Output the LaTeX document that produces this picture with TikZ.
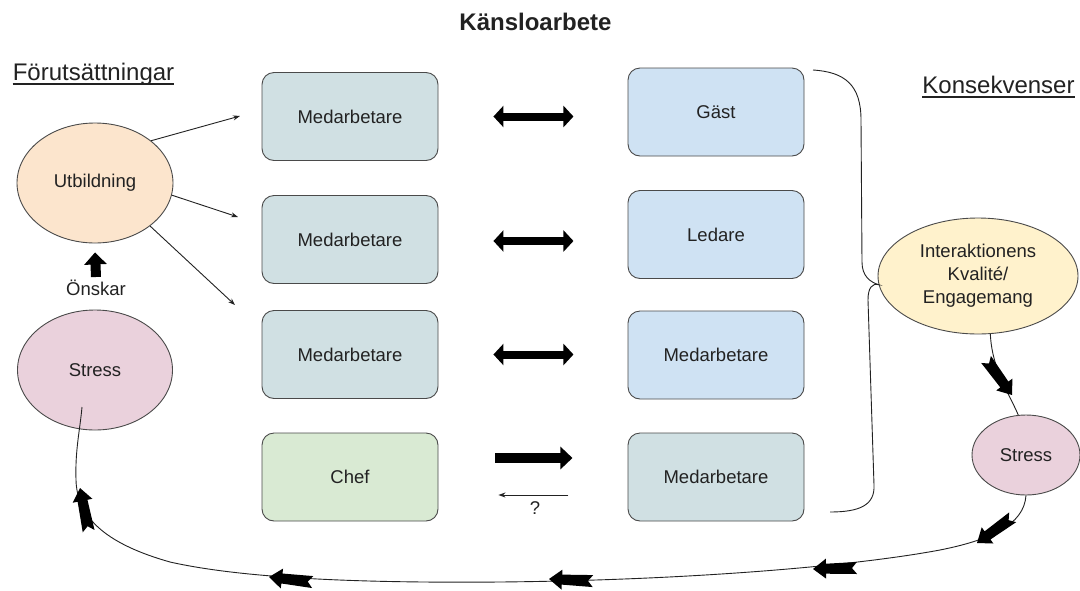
\documentclass[tikz,border=0pt]{standalone}
\usepackage{fontspec}
\setmainfont{Liberation Sans}
\usetikzlibrary{arrows.meta,shapes.geometric}
\definecolor{peach}{HTML}{FCE5CD}
\definecolor{pinkc}{HTML}{EAD1DC}
\definecolor{yell}{HTML}{FFF2CC}
\definecolor{greyblue}{HTML}{D0E0E3}
\definecolor{lblue}{HTML}{CFE2F3}
\definecolor{lgreen}{HTML}{D9EAD3}
\definecolor{edgec}{HTML}{4A4A4A}
\definecolor{ink}{HTML}{222222}
\tikzset{
 lbl/.style={font=\fontsize{18.5}{23}\selectfont, text=ink},
 head/.style={font=\fontsize{24}{28}\selectfont, text=ink, inner sep=0pt},
 box/.style={lbl, draw=edgec, line width=0.9pt, rounded corners=12pt, minimum width=176pt, minimum height=88pt, inner sep=0pt},
 oval/.style={lbl, ellipse, draw=edgec, line width=0.9pt, inner sep=0pt, align=center},
 thinline/.style={draw=ink, line width=0.9pt},
 thinarr/.style={thinline, -{Stealth[length=7pt,width=5pt]}},
 fatdouble/.style={draw=black, line width=8pt, {Triangle[length=10pt,width=21pt]}-{Triangle[length=10pt,width=21pt]}},
 fatone/.style={draw=black, line width=10pt, -{Triangle[length=12pt,width=22pt]}},
 pics/blockarr/.style={code={\fill[black] (0,0) -- (-13,10) -- (-13,5) -- (-44,6) -- (-39,0) -- (-44,-6) -- (-13,-5) -- (-13,-10) -- cycle;}},
}
\begin{document}
\begin{tikzpicture}[x=1pt,y=-1pt]
\useasboundingbox (0,0) rectangle (1080,590);
\fill[white] (0,0) rectangle (1080,590);

% headings
\node[font=\bfseries\fontsize{24}{28}\selectfont, text=ink, anchor=base] (title) at (535.5,30) {Känsloarbete};
\node[head, anchor=base] (pre) at (93.5,80) {Förutsättningar};
\draw[ink, line width=1.2pt] ([yshift=-4pt]pre.base west) -- ([yshift=-4pt]pre.base east);
\node[head, anchor=base] (kon) at (998.5,93) {Konsekvenser};
\draw[ink, line width=1.2pt] ([yshift=-4pt]kon.base west) -- ([yshift=-4pt]kon.base east);

% boxes
\node[box, fill=greyblue] (m1) at (350,116.5) {Medarbetare};
\node[box, fill=greyblue] (m2) at (350,239.5) {Medarbetare};
\node[box, fill=greyblue] (m3) at (350,354.5) {Medarbetare};
\node[box, fill=lgreen] (chef) at (350,477) {Chef};
\node[box, fill=lblue] (gast) at (716,112) {Gäst};
\node[box, fill=lblue] (led) at (716,234.5) {Ledare};
\node[box, fill=lblue] (m4) at (716,355) {Medarbetare};
\node[box, fill=greyblue] (m5) at (716,477) {Medarbetare};

% arrows between boxes
\draw[fatdouble] ([xshift=55pt]m1.east) -- ([xshift=135pt]m1.east);
\draw[fatdouble] ([xshift=55pt,yshift=-1.5pt]m2.east) -- ([xshift=135pt,yshift=-1.5pt]m2.east);
\draw[fatdouble] ([xshift=55pt]m3.east) -- ([xshift=135pt]m3.east);
\draw[fatone] ([xshift=57pt,yshift=19pt]chef.east) -- ([xshift=134pt,yshift=19pt]chef.east);
\draw[thinarr] ([xshift=130pt,yshift=-18pt]chef.east) -- ([xshift=60pt,yshift=-18pt]chef.east);
\node[lbl] (q) at (535,508) {?};

% ellipses
\node[oval, fill=peach, minimum width=156pt, minimum height=120pt] (utb) at (95,183) {Utbildning};
\node[oval, fill=pinkc, minimum width=155pt, minimum height=120pt] (s1) at (95,370) {Stress};
\node[oval, fill=yell, minimum width=200pt, minimum height=116pt] (inter) at (978,276) {Interaktionens\\Kvalité/\\Engagemang};
\node[oval, fill=pinkc, minimum width=108pt, minimum height=80pt] (s2) at (1026,455) {Stress};

% Önskar
\node[lbl, anchor=base] (onsk) at (96,295) {Önskar};
\draw[fatone] ([yshift=-1pt]onsk.north) -- ([yshift=-9pt]utb.south);

% thin arrows from Utbildning
\coordinate (a1) at (240,116);
\coordinate (a2) at (238,217);
\coordinate (a3) at (235,305);
\draw[thinarr] (utb.37) -- (a1);
\draw[thinarr] (utb.-9.5) -- (a2);
\draw[thinarr] (utb.-38) -- (a3);

% brace
\coordinate (bstart) at (813,70);
\coordinate (bend) at (830,512);
\draw[thinline] (bstart) .. controls (845,72) and (861,85) .. (861,120)
  -- (862,262) .. controls (862,276) and (870,282) .. (inter.185)
  .. controls (872,283) and (868,288) .. (868,300)
  -- (874,485) .. controls (875,505) and (860,512) .. (bend);

% interaction -> stress
\draw[thinline] (inter.-78) .. controls (992,370) and (1010,395) .. (s2.101);
\pic[rotate=-53.9] at (1012,395) {blockarr};

% long loop back to left stress
\coordinate (loopend) at (82,407);
\draw[thinline] (s2.south) .. controls (1024,525) and (990,540) .. (940,550)
  .. controls (860,565) and (700,580) .. (500,582)
  .. controls (380,583) and (250,580) .. (170,562)
  .. controls (110,545) and (77,520) .. (76,480)
  .. controls (75,450) and (80,430) .. (loopend);
\pic[rotate=215.8] at (977,543) {blockarr};
\pic[rotate=181.3] at (813,569) {blockarr};
\pic[rotate=177.3] at (549,579) {blockarr};
\pic[rotate=173.4] at (269,577) {blockarr};
\pic[rotate=101.3] at (80,488) {blockarr};
\end{tikzpicture}
\end{document}
